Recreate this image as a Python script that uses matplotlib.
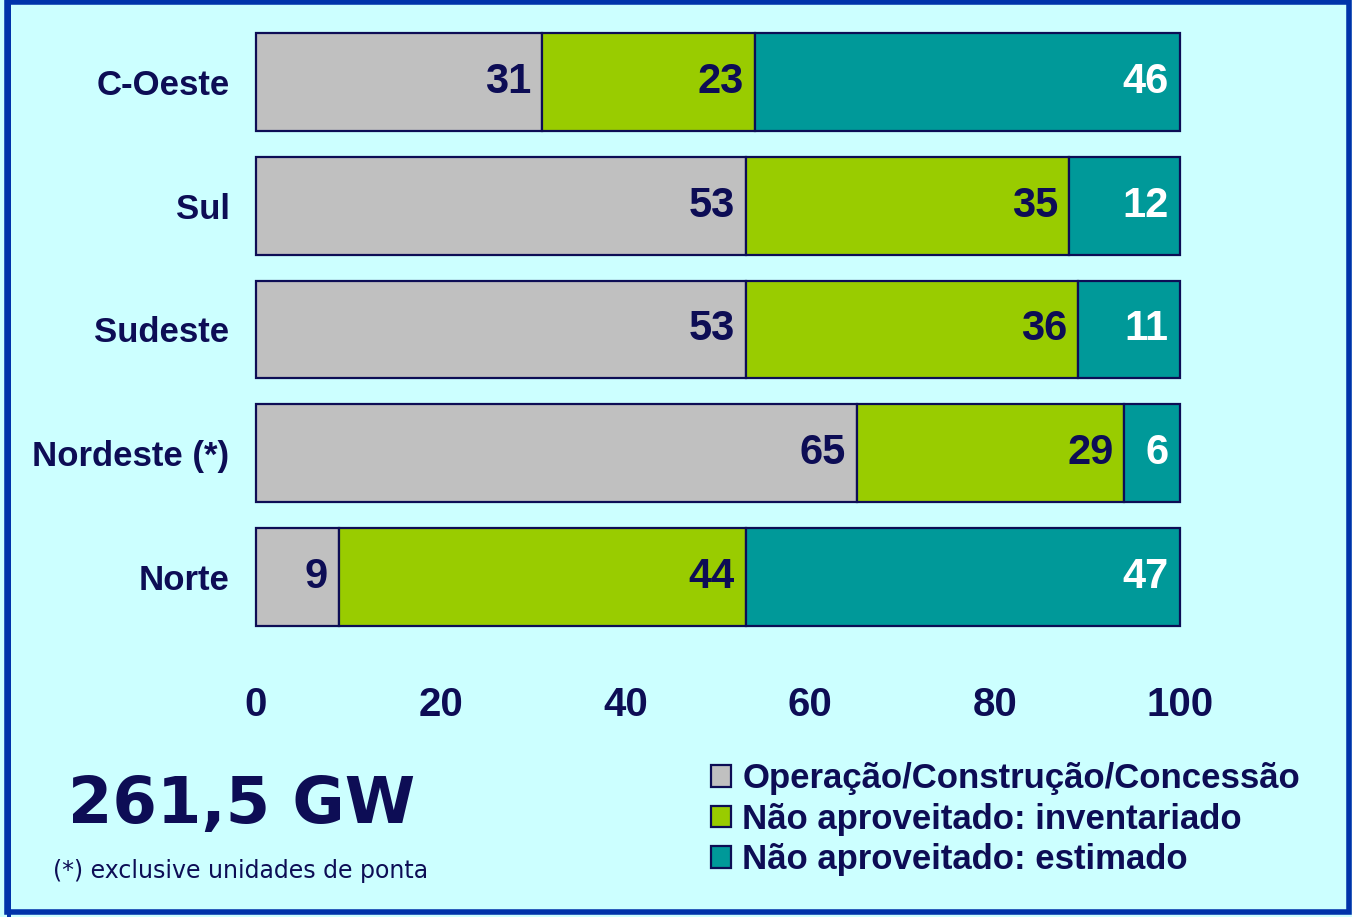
import matplotlib.pyplot as plt
from matplotlib.patches import Rectangle

regions = ['Norte', 'Nordeste (*)', 'Sudeste', 'Sul', 'C-Oeste']
operacao = [9, 65, 53, 53, 31]
inventariado = [44, 29, 36, 35, 23]
estimado = [47, 6, 11, 12, 46]

series = [
    ('Operação/Construção/Concessão', operacao, '#C0C0C0', '#0D0D55'),
    ('Não aproveitado: inventariado', inventariado, '#99CC00', '#0D0D55'),
    ('Não aproveitado: estimado', estimado, '#009999', 'white'),
]

navy = '#0D0D55'
bg = '#CCFFFF'
plt.rcParams['font.family'] = ['Liberation Sans', 'DejaVu Sans']

fig = plt.figure(figsize=(13.52, 9.17), dpi=100)
fig.patch.set_facecolor(bg)

# frame around the slide
fig.add_artist(Rectangle((0.0055, 0.0055), 0.9925, 0.992, transform=fig.transFigure,
                         fill=False, edgecolor='#0033AA', linewidth=4))
fig.add_artist(Rectangle((0.0055, 0.0), 0.0025, 1.0, transform=fig.transFigure,
                         facecolor='#0033AA', edgecolor='none'))

ax = fig.add_axes([0.1893, 0.3032, 0.6834, 0.675])
ax.set_facecolor(bg)

y = list(range(len(regions)))
left = [0] * len(regions)
for name, vals, color, txt in series:
    bars = ax.barh(y, vals, left=left, height=0.79, color=color,
                   edgecolor=navy, linewidth=1.6, label=name)
    for b, v in zip(bars, vals):
        b.set_clip_on(False)
        ax.text(b.get_x() + b.get_width() - 1.2, b.get_y() + b.get_height() / 2,
                str(v), ha='right', va='center', fontsize=30, fontweight='bold',
                color=txt)
    left = [l + v for l, v in zip(left, vals)]

ax.set_xlim(0, 100)
ax.set_ylim(-0.5, 4.5)
ax.set_yticks(y)
ax.set_yticklabels(regions, fontsize=25, fontweight='bold', color=navy)
ax.set_xticks([0, 20, 40, 60, 80, 100])
ax.tick_params(axis='x', labelsize=29, labelcolor=navy, length=0, pad=34)
ax.tick_params(axis='y', length=0, pad=19)
for lbl in ax.get_xticklabels():
    lbl.set_fontweight('bold')
for s in ax.spines.values():
    s.set_visible(False)

leg = fig.legend(loc='upper left', bbox_to_anchor=(0.513, 0.188), frameon=False,
                 fontsize=25, handlelength=0.58, handleheight=0.58,
                 handletextpad=0.32, labelspacing=0.22, borderpad=0)
for t in leg.get_texts():
    t.set_color(navy)
    t.set_fontweight('bold')
for h in leg.legend_handles:
    h.set_edgecolor(navy)
    h.set_linewidth(1.6)

fig.text(0.05, 0.122, '261,5 GW', fontsize=46, fontweight='bold', color=navy,
         family='DejaVu Sans', va='center')
fig.text(0.039, 0.05, '(*) exclusive unidades de ponta', fontsize=17,
         color=navy, family='DejaVu Sans', va='center')

fig.savefig('out.png', dpi=100, facecolor=bg)
